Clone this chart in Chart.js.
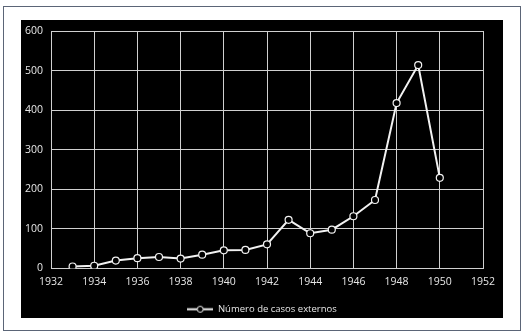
<!DOCTYPE html>
<html>
<head>
<meta charset="utf-8">
<script src="https://cdn.jsdelivr.net/npm/chart.js@4/dist/chart.umd.min.js"></script>
<style>
  html, body { margin: 0; padding: 0; background: #fff; }
  #frame { position: absolute; left: 3px; top: 6px; width: 516px; height: 323px; border: 1px solid #5b6577; }
  #panel { position: absolute; left: 21px; top: 20px; width: 482px; height: 298px; background: #000; overflow: hidden; }
</style>
</head>
<body>
<div id="frame"></div>
<div id="panel"><canvas id="chart" width="482" height="304"></canvas></div>
<script>
// años y número de casos externos
const years = [1933, 1934, 1935, 1936, 1937, 1938, 1939, 1940, 1941, 1942, 1943, 1944, 1945, 1946, 1947, 1948, 1949, 1950];
const casos = [5, 7, 20, 26, 29, 25, 35, 46, 47, 61, 123, 89, 98, 132, 173, 418, 514, 229];
const seriesName = 'Número de casos externos';

// icono de leyenda: línea con círculo
const icon = document.createElement('canvas');
icon.width = 26; icon.height = 9;
const ictx = icon.getContext('2d');
ictx.strokeStyle = '#f2f2f2';
ictx.lineWidth = 2;
ictx.beginPath(); ictx.moveTo(0, 4.5); ictx.lineTo(26, 4.5); ictx.stroke();
ictx.fillStyle = '#000';
ictx.lineWidth = 1;
ictx.beginPath(); ictx.arc(13, 4.5, 3, 0, Math.PI * 2); ictx.fill(); ictx.stroke();

const tickColor = '#e6e6e6';
const gridColor = '#d0d0d0';
const font = { family: 'Open Sans', size: 10.5 };

new Chart(document.getElementById('chart'), {
    type: 'line',
    data: {
        datasets: [{
            label: seriesName,
            data: years.map((y, i) => ({ x: y, y: casos[i] })),
            borderColor: '#f2f2f2',
            borderWidth: 2,
            pointRadius: 3.5,
            pointBorderWidth: 1.2,
            pointBackgroundColor: '#000',
            pointBorderColor: '#f2f2f2',
            tension: 0
        }]
    },
    options: {
        responsive: false,
        animation: false,
        layout: { padding: 0 },
        plugins: {
            legend: {
                position: 'bottom',
                labels: {
                    color: tickColor,
                    font: { family: 'Open Sans', size: 9.5 },
                    usePointStyle: true,
                    pointStyleWidth: 26,
                    padding: 2,
                    generateLabels: () => [{
                        text: seriesName,
                        pointStyle: icon,
                        fontColor: tickColor,
                        strokeStyle: 'transparent',
                        fillStyle: 'transparent',
                        datasetIndex: 0
                    }]
                }
            },
            tooltip: { enabled: false }
        },
        scales: {
            x: {
                type: 'linear',
                min: 1932, max: 1952,
                ticks: { stepSize: 2, color: tickColor, font: font, padding: 7, callback: v => String(v) },
                grid: { color: gridColor, lineWidth: 1, drawTicks: false },
                border: { color: gridColor },
                afterFit: s => { s.height = 34; s.paddingRight = 20; }
            },
            y: {
                min: 0, max: 600,
                ticks: { stepSize: 100, color: tickColor, font: font, padding: 8 },
                grid: { color: gridColor, lineWidth: 1, drawTicks: false },
                border: { color: gridColor },
                afterFit: s => { s.width = 30; s.paddingTop = 11; }
            }
        }
    }
});
</script>
</body>
</html>
